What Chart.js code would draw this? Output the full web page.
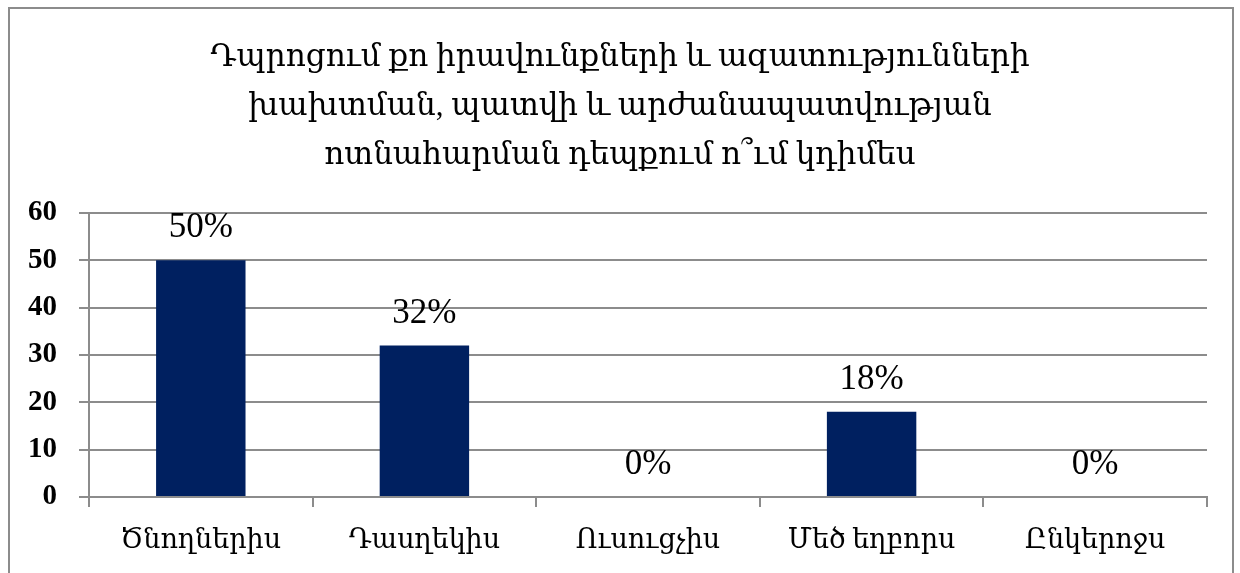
<!DOCTYPE html>
<html>
<head>
<meta charset="utf-8">
<script src="https://cdn.jsdelivr.net/npm/chart.js@4"></script>
<style>
  html, body { margin: 0; padding: 0; background: #fff; overflow: hidden; }
  #wrap { position: relative; width: 1240px; height: 573px; }
  #frame {
    position: absolute; left: 8px; top: 7px; width: 1226px; height: 600px;
    border: 2px solid #8c8c8c; box-sizing: border-box; pointer-events: none;
  }
  canvas { position: absolute; left: 0; top: 0; }
</style>
</head>
<body>
<div id="wrap">
  <canvas id="chart" width="1240" height="573"></canvas>
  <div id="frame"></div>
</div>
<script>
const titleLines = [
  "Դպրոցում քո իրավունքների և ազատությունների",
  "խախտման, պատվի և արժանապատվության",
  "ոտնահարման դեպքում ո՞ւմ կդիմես",
];
const categories = ["Ծնողներիս", "Դասղեկիս", "Ուսուցչիս", "Մեծ եղբորս", "Ընկերոջս"];
const values = [50, 32, 0, 18, 0];
const yTicks = [0, 10, 20, 30, 40, 50, 60];

const FONT = "'Liberation Serif', 'DejaVu Serif', serif";

// draws the "50%" style labels above each bar
const valueLabels = {
  id: "valueLabels",
  afterLayout(chart) {
    // center the title on the whole frame, not only the padded area
    chart.titleBlock.right = chart.width;
  },
  afterDatasetsDraw(chart) {
    const ctx = chart.ctx;
    const meta = chart.getDatasetMeta(0);
    ctx.save();
    ctx.font = "35px " + FONT;
    ctx.fillStyle = "#000";
    ctx.textAlign = "center";
    ctx.textBaseline = "middle";
    meta.data.forEach((bar, i) => {
      ctx.fillText(values[i] + "%", bar.x, bar.y - 32);
    });
    ctx.restore();
  },
};

new Chart(document.getElementById("chart"), {
  type: "bar",
  data: {
    labels: categories,
    datasets: [
      {
        data: values,
        backgroundColor: "#002060",
        barPercentage: 0.4,
        categoryPercentage: 1,
      },
    ],
  },
  options: {
    responsive: false,
    animation: false,
    layout: { padding: { left: 0, right: 33, top: 0, bottom: 0 } },
    plugins: {
      legend: { display: false },
      tooltip: { enabled: false },
      title: {
        display: true,
        text: titleLines,
        color: "#000",
        font: { family: FONT, size: 31, weight: "normal", lineHeight: 1.58 },
        padding: { top: 33, bottom: 33 },
      },
    },
    scales: {
      x: {
        grid: { drawOnChartArea: false, color: "#8c8c8c", tickLength: 10, lineWidth: 2 },
        border: { color: "#8c8c8c", width: 2 },
        ticks: { color: "#000", font: { family: FONT, size: 27 }, padding: 18, maxRotation: 0 },
        afterFit(scale) { scale.height = 76; },
      },
      y: {
        min: 0,
        max: 60,
        afterBuildTicks(scale) { scale.ticks = yTicks.map((v) => ({ value: v })); },
        grid: { color: "#8c8c8c", tickLength: 10, lineWidth: 2 },
        border: { color: "#8c8c8c", width: 2 },
        ticks: { color: "#000", font: { family: FONT, size: 29, weight: "bold" }, padding: 22 },
        afterFit(scale) { scale.width = 89; },
      },
    },
  },
  plugins: [valueLabels],
});
</script>
</body>
</html>
